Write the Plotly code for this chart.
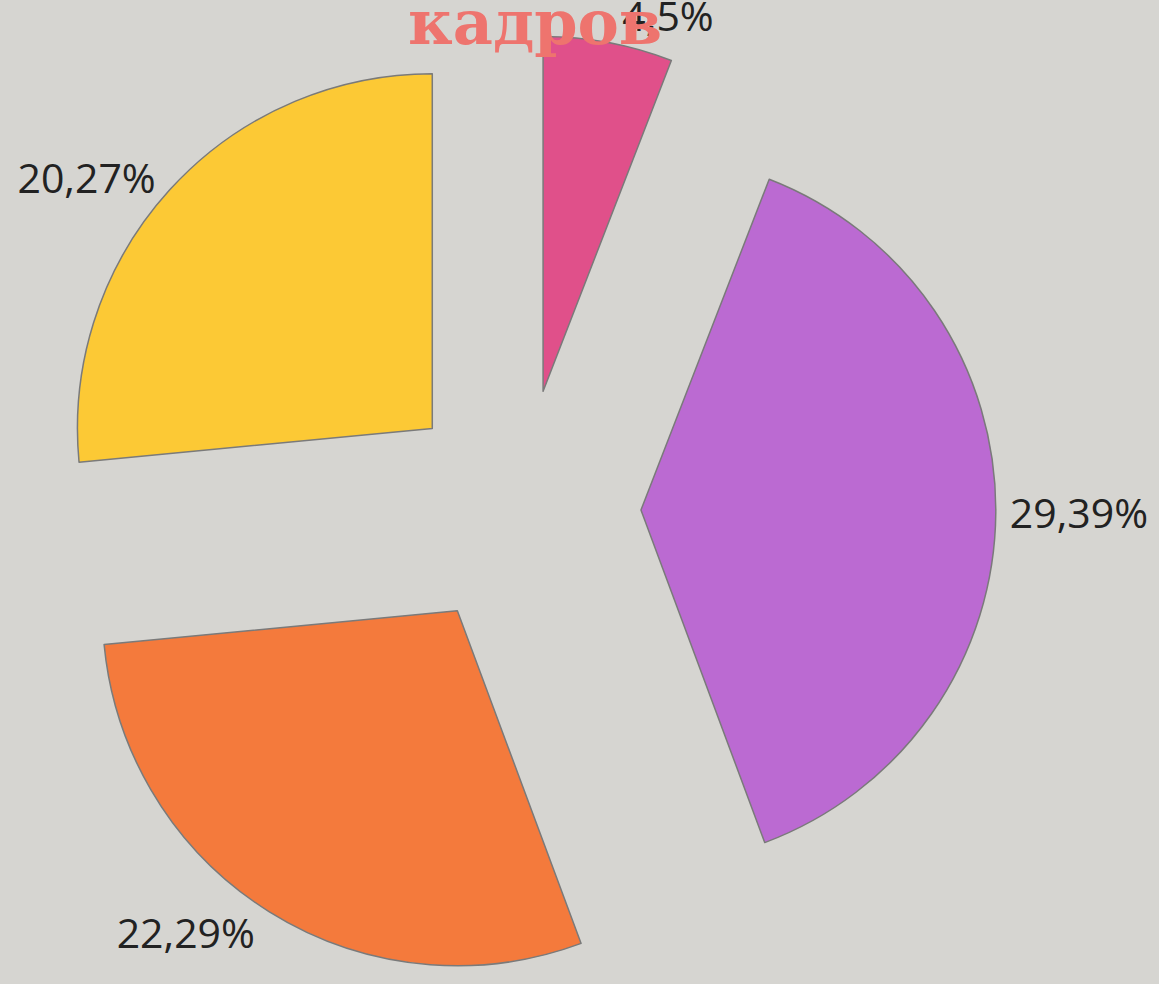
import plotly.graph_objects as go

# Data
categories = ["A", "B", "C", "D"]
values = [4.5, 29.39, 22.29, 20.27]
value_labels = ["4,5%", "29,39%", "22,29%", "20,27%"]
title_text = "кадров"

colors = ["#e0508a", "#bb6ad2", "#f47a3c", "#fcc935"]

fig = go.Figure(go.Pie(
    labels=categories,
    values=values,
    text=value_labels,
    textinfo="text",
    textposition="outside",
    textfont=dict(family="Open Sans", size=41, color="#222222"),
    sort=False,
    direction="clockwise",
    rotation=0,
    pull=[0.338, 0.338, 0.338, 0.338],
    marker=dict(colors=colors, line=dict(color="#7a7a7a", width=1.5)),
    domain=dict(x=[0.0397, 0.8594], y=[0.0, 0.965]),
    showlegend=False,
    hoverinfo="skip",
))

fig.add_annotation(
    text=title_text, xref="paper", yref="paper", x=0.462, y=1.0,
    xanchor="center", yanchor="top", yshift=16, showarrow=False,
    font=dict(family="DejaVu Serif", size=62, color="#ee746e", weight="bold"),
)

fig.update_layout(
    width=1159, height=984,
    margin=dict(l=0, r=0, t=0, b=0, autoexpand=False),
    paper_bgcolor="#d6d5d1",
    plot_bgcolor="#d6d5d1",
)

fig.write_html("out.html", config={"displayModeBar": False},
               post_script="document.body.style.margin='0';")
